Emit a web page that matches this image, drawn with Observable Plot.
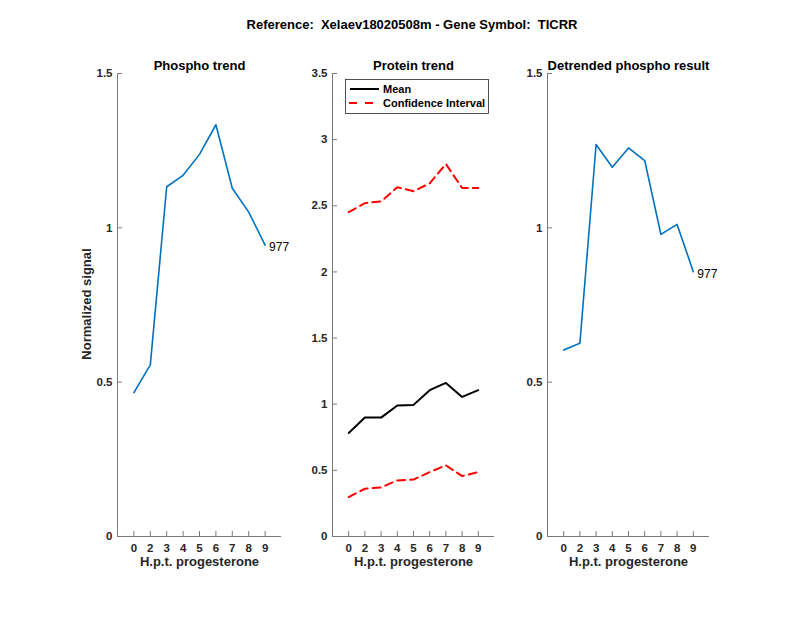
<!DOCTYPE html>
<html>
<head>
<meta charset="utf-8">
<script src="https://cdn.jsdelivr.net/npm/d3@7"></script>
<script src="https://cdn.jsdelivr.net/npm/@observablehq/plot@0.6"></script>
<style>
  body { margin: 0; background: #fff; font-family: "Liberation Sans", Arial, sans-serif; }
  #root { position: relative; width: 800px; height: 618px; overflow: hidden; }
  #root svg.plot { position: absolute; background: transparent; }
  .abs { position: absolute; white-space: pre; color: #000; }
</style>
</head>
<body>
<div id="root"></div>
<script>
// ---------- data ----------
const hourLabels = ["0", "2", "3", "4", "5", "6", "7", "8", "9"];
const phosphoTrend = [0.466, 0.556, 1.133, 1.17, 1.238, 1.334, 1.128, 1.051, 0.944];
const proteinMean = [0.783, 0.899, 0.899, 0.99, 0.995, 1.106, 1.161, 1.055, 1.106];
const proteinUpper = [2.452, 2.52, 2.533, 2.64, 2.61, 2.67, 2.816, 2.634, 2.634];
const proteinLower = [0.298, 0.361, 0.371, 0.424, 0.43, 0.487, 0.538, 0.457, 0.487];
const detrended = [0.604, 0.626, 1.27, 1.196, 1.259, 1.218, 0.979, 1.011, 0.858];
const peptideLabel = "977";
const yTicksPhospho = [0, 0.5, 1, 1.5];
const yTicksProtein = [0, 0.5, 1, 1.5, 2, 2.5, 3, 3.5];
const mainTitle = "Reference:  Xelaev18020508m - Gene Symbol:  TICRR";
const panelTitles = ["Phospho trend", "Protein trend", "Detrended phospho result"];
const xLabel = "H.p.t. progesterone";
const yLabel = "Normalized signal";
const legendLabels = ["Mean", "Confidence Interval"];

const toRows = vals => vals.map((v, i) => ({x: i + 1, label: hourLabels[i], v}));
const xTickPos = hourLabels.map((_, i) => i + 1);

const FONT = "Liberation Sans, Arial, sans-serif";
const AXIS = "#262626";
const LINEC = "#7a7a7a";

function panel({title, yDomain, yTicks, marks, left, marginLeft, marginRight}) {
  const svg = Plot.plot({
    width: 250, height: 540,
    marginLeft, marginRight, marginTop: 33, marginBottom: 44,
    style: {fontFamily: FONT, background: "transparent", overflow: "visible"},
    x: {domain: [0, 10], axis: null},
    y: {domain: yDomain, axis: null},
    marks: [
      Plot.ruleY([yDomain[0]], {stroke: LINEC, strokeWidth: 1}),
      Plot.ruleX([0], {stroke: LINEC, strokeWidth: 1}),
      // inward tick marks
      Plot.ruleX(xTickPos, {x: d => d, y1: yDomain[0], y2: yDomain[0], insetBottom: 5, stroke: LINEC, strokeWidth: 1}),
      Plot.ruleY(yTicks, {y: d => d, x1: 0, x2: 0, insetLeft: 5, stroke: LINEC, strokeWidth: 1}),
      Plot.axisX({ticks: xTickPos, tickSize: 0, tickPadding: 7, tickFormat: d => hourLabels[d - 1],
                  label: null, fontSize: 11.5, fontWeight: "bold", fill: AXIS}),
      Plot.axisY({ticks: yTicks, tickSize: 0, tickPadding: 5, tickFormat: d => `${d}`,
                  label: null, fontSize: 11.5, fontWeight: "bold", fill: AXIS}),
      ...marks,
      Plot.text([title], {frameAnchor: "top", dy: -13, text: d => d, fontSize: 13, fontWeight: "bold", fill: "#000"}),
      Plot.text([xLabel], {frameAnchor: "bottom", dy: 29, text: d => d, fontSize: 13, fontWeight: "bold", fill: AXIS})
    ]
  });
  svg.classList.add("plot");
  svg.style.left = left + "px";
  svg.style.top = "40px";
  return svg;
}

const root = document.getElementById("root");

const blueLine = vals => [
  Plot.line(toRows(vals), {x: "x", y: "v", stroke: "#0072BD", strokeWidth: 1.6}),
  Plot.text(toRows(vals).slice(-1), {x: "x", y: "v", text: () => peptideLabel, textAnchor: "start",
    dx: 4, dy: 2, fontSize: 12, fill: "#000"})
];

root.appendChild(panel({
  title: panelTitles[0], yDomain: [0, 1.5], yTicks: yTicksPhospho,
  marks: blueLine(phosphoTrend), left: 60, marginLeft: 57, marginRight: 29
}));

root.appendChild(panel({
  title: panelTitles[1], yDomain: [0, 3.5], yTicks: yTicksProtein,
  marks: [
    Plot.line(toRows(proteinMean), {x: "x", y: "v", stroke: "#000", strokeWidth: 2}),
    Plot.line(toRows(proteinUpper), {x: "x", y: "v", stroke: "#ff0000", strokeWidth: 2, strokeDasharray: "8,5"}),
    Plot.line(toRows(proteinLower), {x: "x", y: "v", stroke: "#ff0000", strokeWidth: 2, strokeDasharray: "8,5"})
  ],
  left: 280, marginLeft: 52, marginRight: 36
}));

root.appendChild(panel({
  title: panelTitles[2], yDomain: [0, 1.5], yTicks: yTicksPhospho,
  marks: blueLine(detrended), left: 495, marginLeft: 52, marginRight: 36
}));

// main title
const t = document.createElement("div");
t.className = "abs";
t.style.cssText += `left:212px; width:400px; top:17px; text-align:center; font: bold 13px ${FONT};`;
t.textContent = mainTitle;
root.appendChild(t);

// y label
const yl = document.createElement("div");
yl.className = "abs";
yl.style.cssText += `left:${87 - 100}px; top:${304 - 8}px; width:200px; height:16px; line-height:16px; text-align:center; transform: rotate(-90deg); transform-origin: 100px 8px; font: bold 13px ${FONT}; color:${AXIS};`;
yl.textContent = yLabel;
root.appendChild(yl);

// legend
const NS = "http://www.w3.org/2000/svg";
const lg = document.createElementNS(NS, "svg");
lg.setAttribute("width", 144); lg.setAttribute("height", 35);
lg.style.cssText = "position:absolute; left:345px; top:79px;";
const mk = (tag, attrs, text) => {
  const e = document.createElementNS(NS, tag);
  for (const k in attrs) e.setAttribute(k, attrs[k]);
  if (text) e.textContent = text;
  lg.appendChild(e);
  return e;
};
mk("rect", {x: 0.5, y: 0.5, width: 143, height: 34, fill: "#fff", stroke: "#262626", "stroke-width": 0.8});
mk("line", {x1: 5, x2: 34, y1: 10, y2: 10, stroke: "#000", "stroke-width": 2});
mk("line", {x1: 4, x2: 34, y1: 24, y2: 24, stroke: "#ff0000", "stroke-width": 2, "stroke-dasharray": "8,8"});
mk("text", {x: 38, y: 10, dy: "0.35em", "font-family": FONT, "font-size": 11, "font-weight": "bold", fill: "#000"}, legendLabels[0]);
mk("text", {x: 38, y: 24, dy: "0.35em", "font-family": FONT, "font-size": 11, "font-weight": "bold", fill: "#000"}, legendLabels[1]);
root.appendChild(lg);
</script>
</body>
</html>
